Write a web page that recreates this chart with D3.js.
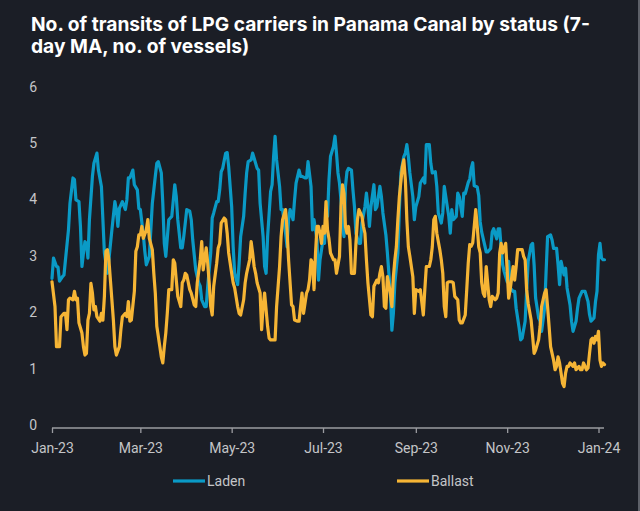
<!DOCTYPE html>
<html>
<head>
<meta charset="utf-8">
<script src="https://cdn.jsdelivr.net/npm/d3@7"></script>
<style>
html,body{margin:0;padding:0;background:#1b1e26;}
svg{display:block;}
</style>
</head>
<body>
<svg id="chart" width="640" height="511"></svg>
<script>
// ---- data (x = days since 1 Jan 2023, y = 7-day MA number of vessels) ----
const startDate = "2023-01-01";
const titleLines = ["No. of transits of LPG carriers in Panama Canal by status (7-", "day MA, no. of vessels)"];
const seriesNames = ["Laden", "Ballast"];
const yTicks = [0, 1, 2, 3, 4, 5, 6];
const xTickLabels = ["Jan-23", "Mar-23", "May-23", "Jul-23", "Sep-23", "Nov-23", "Jan-24"];
const xTickDates = ["2023-01-01", "2023-03-01", "2023-05-01", "2023-07-01", "2023-09-01", "2023-11-01", "2024-01-01"];

const ladenDay = [0,1,3,4,5,7,8,9,11,12,14,15,16,18,19,20,21,22,23,24,25,27,28,30,31,33,34,35,37,38,40,42,43,44,45,47,49,50,51,52,54,55,57,58,59,61,62,63,65,66,67,69,70,71,73,74,75,76,78,79,80,82,83,84,86,87,88,90,92,93,94,96,97,98,99,100,102,103,104,106,107,108,110,111,112,113,114,116,117,118,120,121,122,124,125,126,128,129,130,131,133,134,135,137,138,139,141,142,143,144,146,147,148,149,150,152,153,154,156,157,158,159,161,162,163,165,166,167,169,170,171,173,174,175,177,178,179,181,182,183,184,185,186,188,189,190,191,192,193,194,195,196,197,198,200,201,202,203,205,206,207,209,210,211,212,213,215,216,217,219,220,221,223,224,225,226,227,228,229,231,232,233,235,236,237,238,239,241,242,243,245,246,248,249,250,252,253,254,256,257,258,260,261,262,264,265,266,267,268,270,271,272,274,275,276,278,279,280,281,282,284,285,286,287,289,290,291,293,294,295,297,298,299,300,301,302,304,305,306,308,309,310,312,313,314,316,317,318,320,321,322,323,325,326,327,329,330,331,333,334,335,337,338,339,340,342,343,344,346,347,348,350,351,352,354,355,356,358,359,360,362,363,364,365,366,367,368,369];
const ladenValue = [2.60,2.96,2.81,2.80,2.55,2.63,2.66,2.93,3.46,3.93,4.38,4.35,3.99,3.96,3.52,2.81,3.05,3.25,3.22,2.96,3.64,4.41,4.64,4.82,4.52,4.23,3.64,3.05,2.69,2.93,3.46,3.96,3.81,3.52,3.84,3.96,3.82,3.99,4.38,4.38,4.52,4.26,4.17,3.84,3.82,3.37,3.08,2.84,2.99,3.46,3.93,4.41,4.64,4.67,4.47,3.93,3.22,2.99,3.64,3.67,3.70,4.26,4.05,3.64,3.14,3.14,3.34,3.82,3.79,3.64,3.28,2.75,2.63,2.52,2.46,2.22,2.10,2.10,2.46,3.05,3.67,3.76,3.96,3.96,4.17,4.49,4.55,4.82,4.83,4.58,3.87,3.16,2.69,2.49,2.87,3.34,3.70,4.11,4.47,4.67,4.70,4.82,4.73,4.55,4.52,3.93,3.34,2.81,2.69,3.34,4.14,4.26,4.76,5.12,4.70,4.23,3.82,3.82,3.40,3.16,3.64,3.82,3.64,3.99,4.29,4.52,4.41,4.41,4.38,4.38,4.67,4.23,3.46,3.64,3.28,2.57,2.93,3.28,3.22,3.76,3.70,4.35,4.76,4.94,5.12,4.82,4.47,4.29,3.99,3.52,3.34,4.23,4.49,4.55,4.52,4.17,3.87,3.40,3.22,3.22,3.58,3.87,4.11,3.87,3.52,3.87,4.26,3.82,3.87,4.23,4.05,3.76,3.37,3.05,2.69,2.33,1.68,1.98,2.52,3.05,3.82,4.47,4.76,4.82,4.97,4.76,4.47,4.05,3.64,3.87,4.05,4.29,4.38,4.29,4.97,4.97,4.64,4.47,4.49,4.23,3.76,3.58,3.76,4.23,3.87,3.70,3.40,3.82,3.64,3.70,4.11,4.05,3.70,4.11,4.10,4.30,4.36,4.55,4.65,4.24,4.22,4.07,3.60,3.42,3.19,3.07,3.07,3.13,3.42,3.48,3.30,3.48,3.48,3.13,2.84,2.72,2.54,2.90,2.43,2.37,2.37,2.07,1.72,1.51,1.54,1.84,2.37,2.90,3.19,3.22,2.84,2.25,1.90,1.84,1.66,2.07,2.72,3.34,3.37,3.28,3.13,3.13,2.84,2.49,2.90,2.66,2.78,2.43,2.13,1.84,1.66,1.84,2.07,2.25,2.37,2.37,2.37,2.19,1.96,1.84,1.90,2.19,2.37,3.02,3.22,2.96,2.93,2.93];

const ballastDay = [0,2,3,5,6,8,9,10,11,12,14,15,16,17,18,20,21,22,23,24,25,26,27,28,29,30,32,33,34,35,36,37,38,40,41,42,43,45,46,47,49,50,51,52,53,55,56,57,58,59,60,61,63,64,65,67,68,69,70,72,73,74,75,76,77,78,80,81,82,83,84,86,87,88,89,90,92,93,95,96,97,99,100,101,103,104,105,106,107,108,110,111,112,113,115,116,117,118,120,121,122,124,125,126,128,129,130,132,133,134,135,136,137,139,140,141,142,144,145,146,148,149,150,152,153,154,156,157,158,160,161,162,164,165,166,167,168,170,171,172,173,174,175,176,177,178,179,180,181,182,183,184,185,186,188,189,190,192,193,194,195,196,197,198,199,200,202,203,204,205,207,208,209,210,211,213,214,215,217,218,219,220,221,222,223,224,226,227,228,229,230,231,232,234,235,236,237,238,239,241,242,243,245,246,248,249,250,252,253,254,255,256,257,259,260,261,262,263,264,265,267,268,269,271,272,273,274,276,277,278,279,280,281,283,284,285,286,287,288,289,290,292,293,294,296,297,298,299,300,301,303,304,305,306,308,309,310,311,313,314,315,316,317,318,320,321,322,323,325,326,327,329,330,331,332,333,335,336,337,338,339,340,341,342,343,344,345,346,348,349,350,352,353,354,355,357,358,359,360,361,362,363,364,365,366,367,368,369];
const ballastValue = [2.54,2.10,1.39,1.39,1.92,1.98,1.98,1.69,2.22,2.25,2.22,2.37,2.22,2.25,1.81,1.63,1.39,1.24,1.27,1.86,1.98,2.51,2.34,2.04,2.10,1.92,1.84,1.98,1.86,2.28,3.08,3.11,2.93,2.22,1.86,1.39,1.24,1.39,1.69,1.92,1.98,1.92,2.19,1.84,1.86,2.37,3.08,3.16,3.37,3.37,3.52,3.31,3.46,3.64,3.31,3.11,2.69,2.34,1.75,1.39,1.21,1.10,1.39,1.63,1.98,2.40,2.40,2.93,2.87,2.57,2.28,2.10,2.52,2.57,2.69,2.66,2.40,2.34,2.13,2.10,2.52,2.93,3.25,2.75,3.14,2.87,2.52,2.10,1.95,2.46,2.87,3.14,3.22,3.58,3.67,3.64,3.40,3.05,2.69,2.52,2.43,2.10,1.98,1.95,2.22,2.52,2.69,2.93,3.25,3.05,2.81,2.69,2.52,2.34,1.69,2.10,2.34,1.75,1.54,1.51,1.51,1.51,2.10,2.81,3.34,3.64,3.82,3.46,2.93,2.13,2.10,1.86,1.84,1.84,2.10,2.34,1.98,2.34,2.40,2.57,2.93,2.87,2.40,3.05,3.52,3.52,3.40,3.22,3.52,3.40,3.96,3.46,3.30,3.05,2.93,2.93,2.69,2.99,3.87,4.26,4.11,3.52,3.40,3.52,3.28,2.69,2.69,3.22,3.64,3.82,3.70,3.52,3.40,2.93,2.52,1.95,1.92,2.46,2.57,2.52,2.69,2.81,2.63,2.10,2.07,2.63,2.34,2.10,2.63,2.93,3.16,3.64,4.05,4.58,4.70,4.35,3.64,3.16,2.99,2.63,1.98,2.40,2.37,2.40,1.95,2.40,2.81,2.81,2.93,3.16,3.64,3.70,3.40,3.11,2.93,2.69,2.10,1.92,2.52,2.54,2.54,2.52,2.28,2.22,1.86,1.81,1.81,1.95,2.40,2.87,3.20,3.17,3.23,3.82,3.52,3.16,3.05,2.52,2.34,2.28,2.81,2.22,2.10,2.28,2.22,2.25,2.34,3.05,3.22,3.05,3.22,2.75,2.25,2.40,2.81,2.57,2.81,3.11,3.11,3.11,2.99,2.93,2.40,2.16,1.86,1.57,1.27,1.33,1.51,1.75,2.10,2.34,2.40,2.10,1.75,1.39,1.15,0.98,1.04,1.21,1.10,0.92,0.74,0.68,0.92,1.04,1.04,1.10,1.04,1.10,0.98,1.04,0.98,0.98,1.10,0.98,1.01,1.27,1.51,1.54,1.45,1.57,1.51,1.66,1.15,1.04,1.10,1.07];

// ---- layout ----
const W = 640, H = 511;
const colors = { bg: "#1b1e26", laden: "#0a9ac6", ballast: "#f6b535", text: "#ffffff", axisText: "#c4c5c8", axis: "#9b9ca1" };
const parse = d3.timeParse("%Y-%m-%d");
const t0 = parse(startDate);

const svg = d3.select("#chart");
svg.append("rect").attr("width", W).attr("height", H).attr("fill", colors.bg);
svg.append("rect").attr("x", 638).attr("y", 0).attr("width", 2).attr("height", H).attr("fill", "#5d6068");

const x = d3.scaleTime().domain([parse("2023-01-01"), parse("2024-01-01")]).range([52, 598.5]);
const y = d3.scaleLinear().domain([0, 6]).range([425, 86.6]);

// title
const title = svg.append("text")
  .attr("x", 31).attr("y", 31)
  .attr("fill", colors.text)
  .style("font-family", "Inter, 'Open Sans', sans-serif")
  .style("font-weight", 700)
  .style("font-size", "19px");
title.selectAll("tspan").data(titleLines).join("tspan")
  .attr("x", 31).attr("dy", (d, i) => i === 0 ? 0 : 22).text(d => d);
const firstLine = title.select("tspan").node();
const w = firstLine.getComputedTextLength();
title.style("font-size", (19 * 559 / w).toFixed(2) + "px");

// y axis labels
svg.append("g").selectAll("text").data(yTicks).join("text")
  .attr("x", 37).attr("y", d => y(d))
  .attr("dy", "0.35em")
  .attr("text-anchor", "end")
  .attr("fill", colors.axisText)
  .style("font-family", "Roboto, sans-serif")
  .style("font-size", "14px")
  .text(d => d);

// x axis
const xAxisG = svg.append("g").attr("transform", "translate(0,428)");
const xAxis = d3.axisBottom(x)
  .tickValues(xTickDates.map(parse))
  .tickFormat((d, i) => xTickLabels[i])
  .tickSize(5)
  .tickPadding(10);
xAxisG.call(xAxis);
xAxisG.select(".domain").attr("d", "M52,0H604").attr("stroke", colors.axis).attr("stroke-width", 1.3);
xAxisG.selectAll(".tick line").attr("stroke", colors.axis).attr("stroke-width", 1.3);
xAxisG.selectAll(".tick text")
  .attr("fill", colors.axisText)
  .style("font-family", "Roboto, sans-serif")
  .style("font-size", "14px");

// lines
const line = d3.line()
  .x(d => x(d3.timeDay.offset(t0, d[0])))
  .y(d => y(d[1]))
  .curve(d3.curveLinear);

const series = [
  { name: seriesNames[0], color: colors.laden, pts: d3.zip(ladenDay, ladenValue) },
  { name: seriesNames[1], color: colors.ballast, pts: d3.zip(ballastDay, ballastValue) }
];

svg.append("g").selectAll("path").data(series).join("path")
  .attr("d", d => line(d.pts))
  .attr("fill", "none")
  .attr("stroke", d => d.color)
  .attr("stroke-width", 3.2)
  .attr("stroke-linejoin", "round")
  .attr("stroke-linecap", "round");

// legend
const legendX = [173, 397];
const lg = svg.append("g").selectAll("g").data(series).join("g")
  .attr("transform", (d, i) => `translate(${legendX[i]},481)`);
lg.append("line").attr("x1", 0).attr("x2", 32).attr("y1", 0).attr("y2", 0)
  .attr("stroke", d => d.color).attr("stroke-width", 3.2);
lg.append("text").attr("x", 34).attr("y", 0).attr("dy", "0.35em")
  .attr("fill", colors.axisText)
  .style("font-family", "Roboto, sans-serif")
  .style("font-size", "14px")
  .text(d => d.name);
</script>
</body>
</html>
